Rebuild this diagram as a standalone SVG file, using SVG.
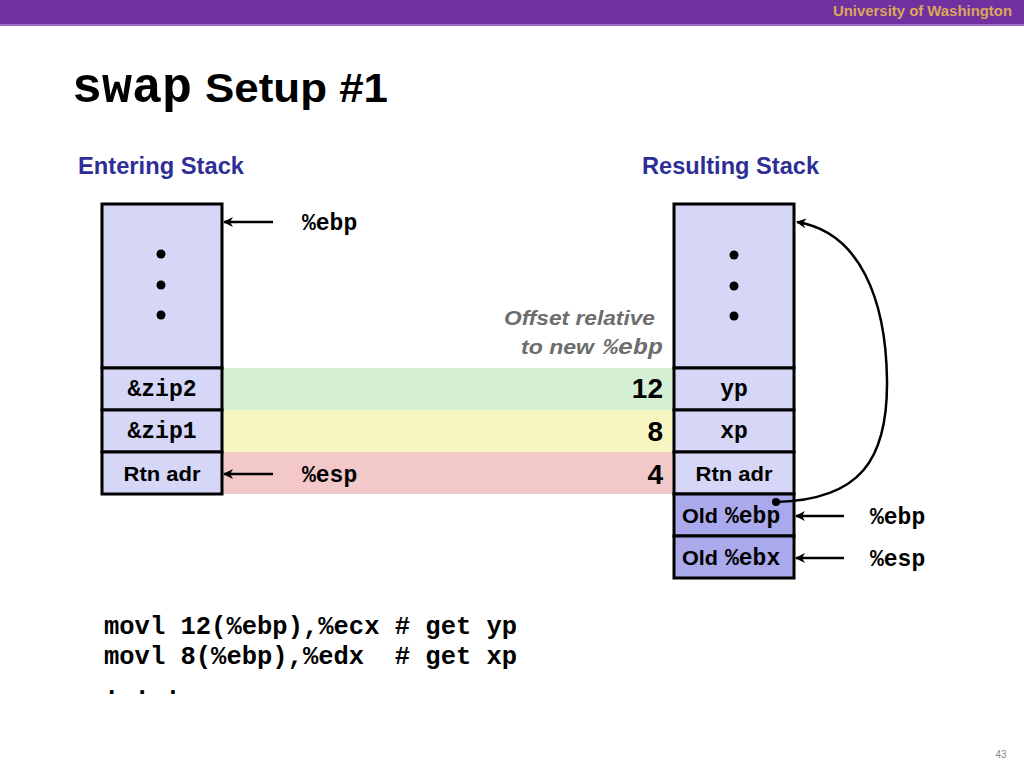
<svg xmlns="http://www.w3.org/2000/svg" width="1024" height="768" viewBox="0 0 1024 768">
<style>
.cell{fill:#d6d6f6;stroke:#000;stroke-width:3}
.dark{fill:#a9a9ec;stroke:#000;stroke-width:3}
.mono{font-family:"Liberation Mono","Courier New",monospace;font-weight:bold;fill:#000}
.sans{font-family:"Liberation Sans",Arial,sans-serif;font-weight:bold;fill:#000}
.hdr{font-family:"Liberation Sans",Arial,sans-serif;font-weight:bold;fill:#2e2e96;font-size:23px}
.arr{stroke:#000;stroke-width:2.5;fill:none;marker-end:url(#ah)}
</style>
<defs>
<marker id="ah" viewBox="0 0 10 10" refX="9" refY="5" markerWidth="4" markerHeight="4" orient="auto" markerUnits="strokeWidth">
<path d="M0,0 L10,5 L0,10 L3,5 z" fill="#000"/>
</marker>
</defs>
<rect x="0" y="0" width="1024" height="768" fill="#fff"/>
<rect x="0" y="0" width="1024" height="24" fill="#7030a0"/>
<rect x="0" y="24" width="1024" height="2" fill="#9b6fc4"/>
<text x="1012" y="16" text-anchor="end" font-family="Liberation Sans,Arial,sans-serif" font-size="14" font-weight="bold" fill="#d9a95a" textLength="179" lengthAdjust="spacingAndGlyphs">University of Washington</text>
<text x="72" y="102" class="mono" font-size="50" textLength="120" lengthAdjust="spacingAndGlyphs">swap</text>
<text x="205" y="102" class="sans" font-size="40" textLength="183" lengthAdjust="spacingAndGlyphs">Setup #1</text>
<text x="78" y="174" class="hdr" textLength="166" lengthAdjust="spacingAndGlyphs">Entering Stack</text>
<text x="642" y="174" class="hdr" textLength="177" lengthAdjust="spacingAndGlyphs">Resulting Stack</text>
<g id="bands">
<rect x="222" y="368" width="451" height="42" fill="#d4efd4"/>
<rect x="222" y="410" width="451" height="42" fill="#f7f5c0"/>
<rect x="222" y="452" width="451" height="42" fill="#f2c8c8"/>
</g>
<g id="left-stack">
<rect class="cell" x="102" y="204" width="120" height="164"/>
<circle cx="161" cy="254" r="4.5"/><circle cx="161" cy="285" r="4.5"/><circle cx="161" cy="315" r="4.5"/>
<rect class="cell" x="102" y="368" width="120" height="42"/>
<text x="162" y="396" class="mono" font-size="23" text-anchor="middle">&amp;zip2</text>
<rect class="cell" x="102" y="410" width="120" height="42"/>
<text x="162" y="438" class="mono" font-size="23" text-anchor="middle">&amp;zip1</text>
<rect class="cell" x="102" y="452" width="120" height="42"/>
<text x="162" y="481" class="sans" font-size="20" text-anchor="middle" textLength="77" lengthAdjust="spacingAndGlyphs">Rtn adr</text>
</g>
<g id="right-stack">
<rect class="cell" x="674" y="204" width="120" height="164"/>
<circle cx="734" cy="255" r="4.5"/><circle cx="734" cy="286" r="4.5"/><circle cx="734" cy="316" r="4.5"/>
<rect class="cell" x="674" y="368" width="120" height="42"/>
<text x="734" y="396" class="mono" font-size="23" text-anchor="middle">yp</text>
<rect class="cell" x="674" y="410" width="120" height="42"/>
<text x="734" y="438" class="mono" font-size="23" text-anchor="middle">xp</text>
<rect class="cell" x="674" y="452" width="120" height="42"/>
<text x="734" y="481" class="sans" font-size="20" text-anchor="middle" textLength="77" lengthAdjust="spacingAndGlyphs">Rtn adr</text>
<rect class="dark" x="674" y="494" width="120" height="42"/>
<text x="682" y="523" class="sans" font-size="21" textLength="36" lengthAdjust="spacingAndGlyphs">Old</text>
<text x="725" y="523" class="mono" font-size="23">%ebp</text>
<rect class="dark" x="674" y="536" width="120" height="42"/>
<text x="682" y="565" class="sans" font-size="21" textLength="36" lengthAdjust="spacingAndGlyphs">Old</text>
<text x="725" y="565" class="mono" font-size="23">%ebx</text>
</g>
<g id="offsets">
<text x="655" y="325" font-family="Liberation Sans,Arial,sans-serif" font-weight="bold" font-style="italic" font-size="21" fill="#6d6d6d" text-anchor="end" textLength="151" lengthAdjust="spacingAndGlyphs">Offset relative</text>
<text x="594" y="354" font-family="Liberation Sans,Arial,sans-serif" font-weight="bold" font-style="italic" font-size="21" fill="#6d6d6d" text-anchor="end" textLength="73" lengthAdjust="spacingAndGlyphs">to new</text>
<text x="603" y="354" font-family="Liberation Mono,Courier New,monospace" font-weight="bold" font-style="italic" font-size="22" fill="#6d6d6d" textLength="60" lengthAdjust="spacingAndGlyphs">%ebp</text>
<text x="663" y="398" class="sans" font-size="28" text-anchor="end">12</text>
<text x="663" y="441" class="sans" font-size="28" text-anchor="end">8</text>
<text x="663" y="484" class="sans" font-size="28" text-anchor="end">4</text>
</g>
<g id="connectors">
<line class="arr" x1="273" y1="222" x2="224" y2="222"/>
<line class="arr" x1="273" y1="474" x2="224" y2="474"/>
<line class="arr" x1="844" y1="516" x2="796" y2="516"/>
<line class="arr" x1="844" y1="558" x2="796" y2="558"/>
<circle cx="776" cy="502" r="4"/>
<path class="arr" d="M776,502 C860,500 888,460 887,380 C886,300 860,232 797,222"/>
</g>
<g id="labels">
<text x="302" y="230" class="mono" font-size="23">%ebp</text>
<text x="302" y="482" class="mono" font-size="23">%esp</text>
<text x="870" y="524" class="mono" font-size="23">%ebp</text>
<text x="870" y="566" class="mono" font-size="23">%esp</text>
</g>
<g id="code">
<text x="104" y="634" class="mono" font-size="25.5">movl 12(%ebp),%ecx # get yp</text>
<text x="104" y="664" class="mono" font-size="25.5" xml:space="preserve">movl 8(%ebp),%edx  # get xp</text>
<text x="104" y="694" class="mono" font-size="25.5">. . .</text>
</g>
<text x="1001" y="758" font-family="Liberation Sans,Arial,sans-serif" font-size="10" fill="#888" text-anchor="middle">43</text>
</svg>
